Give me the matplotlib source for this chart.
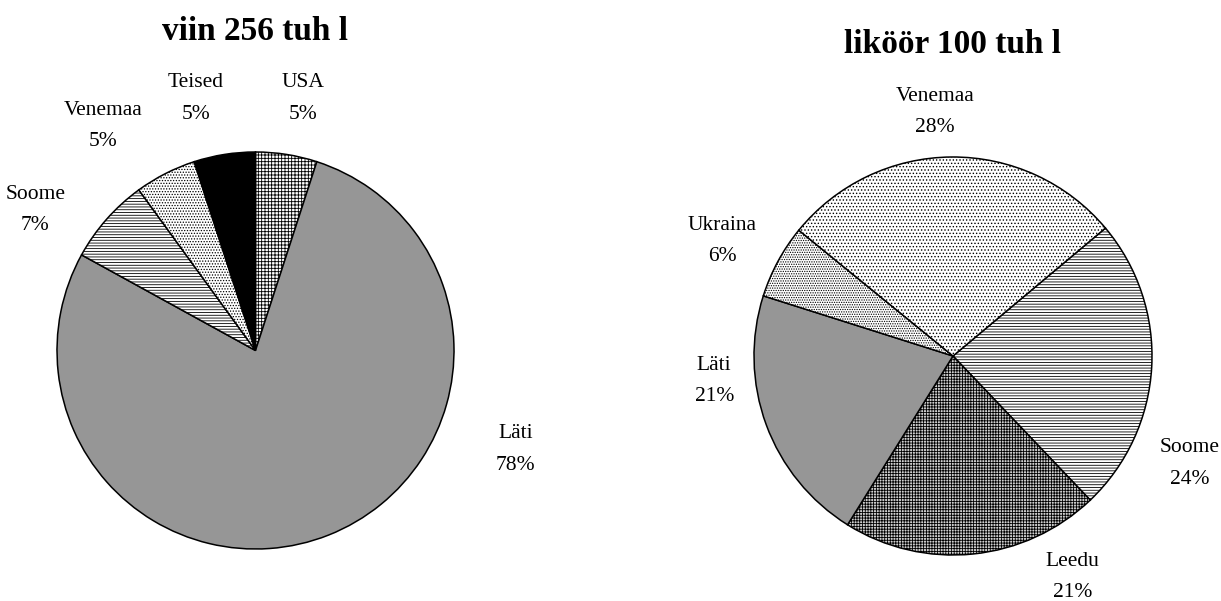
import matplotlib
matplotlib.use("Agg")
import matplotlib.pyplot as plt

plt.rcParams['font.family'] = ['Liberation Serif', 'DejaVu Serif']
plt.rcParams['hatch.linewidth'] = 0.6

# viin (vodka) 256 thousand litres, clockwise from 12 o'clock
viin_labels = ['USA', 'Läti', 'Soome', 'Venemaa', 'Teised']
viin_values = [5, 78, 7, 5, 5]
viin_colors = ['white', '#969696', 'white', 'white', 'black']
viin_hatch = ['+++++', '', '------', '......', '']

# liköör 100 thousand litres, clockwise starting at Soome
likoor_labels = ['Soome', 'Leedu', 'Läti', 'Ukraina', 'Venemaa']
likoor_values = [24, 21, 21, 6, 28]
likoor_colors = ['white', '#cfcfcf', '#969696', 'white', 'white']
likoor_hatch = ['------', '++++++', '', '.......', '.....']

# label positions (pie radius = 1)
viin_pos = [(0.24, 1.27), (1.31, -0.5), (-1.11, 0.707), (-0.77, 1.13), (-0.3, 1.27)]
likoor_pos = [(1.19, -0.54), (0.6, -1.11), (-1.2, -0.125), (-1.16, 0.578), (-0.09, 1.226)]

W, H = 1221, 601
fig = plt.figure(figsize=(W / 100, H / 100), dpi=100)


def draw(cx, cy, r, x0, x1, values, colors, hatch, labels, pos, start, title, ty):
    ax = fig.add_axes([x0 / W, 0, (x1 - x0) / W, 1])
    wedges, _ = ax.pie(values, colors=colors, startangle=start, counterclock=False,
                       radius=1, wedgeprops=dict(edgecolor='black', linewidth=1.1))
    for w, h in zip(wedges, hatch):
        w.set_hatch(h)
    ax.set_xlim((x0 - cx) / r, (x1 - cx) / r)
    ax.set_ylim((cy - H) / r, cy / r)
    ax.set_aspect('auto')
    ax.axis('off')
    for lab, v, (x, y) in zip(labels, values, pos):
        ax.text(x, y, f'{lab}\n{v}%', ha='center', va='center', fontsize=15.5, linespacing=1.9)
    ax.text(0, (cy - ty) / r, title, ha='center', va='center', fontsize=24, fontweight='bold')


draw(255.5, 350.5, 198.5, 0, 610, viin_values, viin_colors, viin_hatch, viin_labels,
     viin_pos, 90, 'viin 256 tuh l', 31)
draw(953, 356, 199, 610, 1221, likoor_values, likoor_colors, likoor_hatch, likoor_labels,
     likoor_pos, 40, 'liköör 100 tuh l', 45)

fig.savefig('out.png', dpi=100)
